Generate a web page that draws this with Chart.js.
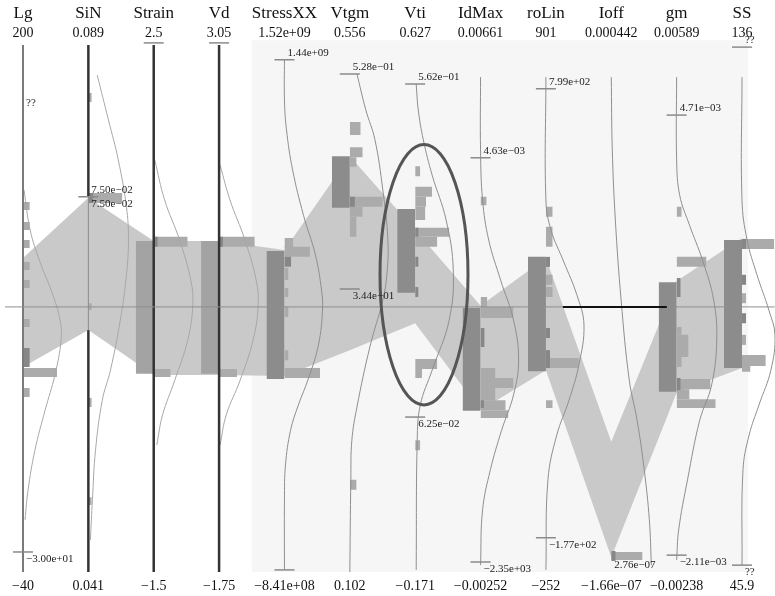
<!DOCTYPE html>
<html>
<head>
<meta charset="utf-8">
<script src="https://cdn.jsdelivr.net/npm/chart.js@4.4.0/dist/chart.umd.min.js"></script>
<style>
  html, body { margin: 0; padding: 0; background: #fff; }
  canvas { display: block; }
</style>
</head>
<body>
<canvas id="myChart" width="775" height="596"></canvas>
<script>
'use strict';

// axes, left to right
const axisNames = ['Lg', 'SiN', 'Strain', 'Vd', 'StressXX', 'Vtgm', 'Vti', 'IdMax', 'roLin', 'Ioff', 'gm', 'SS'];
const axisMax = ['200', '0.089', '2.5', '3.05', '1.52e+09', '0.556', '0.627', '0.00661', '901', '0.000442', '0.00589', '136'];
const axisMin = ['−40', '0.041', '−1.5', '−1.75', '−8.41e+08', '0.102', '−0.171', '−0.00252', '−252', '−1.66e−07', '−0.00238', '45.9'];

// selected band (percent of each axis range)
const bandTop = [59.6, 71.0, 62.8, 62.8, 61.1, 78.9, 64.9, 50.5, 59.6, 24.7, 55.2, 63.4];
const bandBottom = [38.9, 45.9, 37.4, 37.4, 37.2, 42.1, 47.2, 30.7, 38.3, 2.8, 34.0, 38.7];

// brushed range per axis [low, high]
const rangeBoxes = [[37.8, 57.9], null, [37.6, 62.8], [37.6, 62.8], [36.6, 60.9], [69.1, 78.9],
  [53.0, 68.9], [30.6, 50.1], [38.1, 59.8], null, [34.2, 55.0], [38.7, 63.0]];

// histogram bins: [low, high, count, selected]
const binsLg = [[68.7, 70.2, 2], [64.9, 66.4, 2], [61.5, 63.0, 2], [57.3, 58.8, 2], [53.9, 55.4, 2],
  [46.5, 48.0, 2], [38.9, 42.5, 2, 1], [37.0, 38.7, 10], [33.2, 34.9, 2]];
const binsSiN = [[89.2, 90.9, 1], [70.0, 71.9, 10], [70.0, 71.9, 1.5, 1], [49.7, 51.0, 1], [31.3, 33.0, 1], [12.7, 14.2, 1]];
const binsStrain = [[61.7, 63.6, 10], [61.7, 63.6, 1.2, 1], [37.0, 38.5, 5]];
const binsVd = [[61.7, 63.6, 10.5], [61.7, 63.6, 1.2, 1], [37.0, 38.5, 5.3]];
const binsStressXX = [[61.5, 63.4, 2.6], [59.8, 61.7, 7.5], [57.9, 59.8, 2, 1], [55.4, 57.7, 1.2],
  [52.2, 53.9, 1.2], [48.4, 50.3, 1.2], [40.2, 42.1, 1.2], [36.8, 38.7, 10.5]];
const binsVtgm = [[82.9, 85.4, 3.2], [78.7, 80.6, 3.8], [76.9, 78.7, 2], [69.3, 71.2, 9.7], [69.3, 71.2, 1.5, 1],
  [67.4, 69.3, 3.8], [63.6, 67.4, 2], [15.6, 17.5, 2]];
const binsVti = [[75.1, 77.0, 1.5], [71.2, 73.1, 5], [69.3, 71.2, 3.2], [66.8, 69.3, 3], [63.6, 65.3, 10],
  [61.7, 63.6, 6.5], [63.6, 65.3, 1, 1], [57.9, 59.8, 1, 1], [52.2, 54.1, 1, 1], [38.5, 40.4, 6.5],
  [36.8, 38.5, 2], [23.1, 25.0, 1.5]];
const binsIdMax = [[69.6, 71.2, 1.8], [50.3, 52.2, 2], [48.2, 50.3, 9.7], [42.7, 46.3, 1.2, 1], [36.8, 38.7, 4.4],
  [34.9, 36.8, 9.7], [32.6, 34.9, 4.4], [30.7, 32.6, 7.4], [31.1, 32.6, 1, 1], [29.2, 30.7, 8.2]];
const binsRoLin = [[67.4, 69.3, 2], [61.7, 65.5, 2], [57.9, 59.8, 1.2, 1], [54.5, 56.4, 2], [52.2, 54.1, 2],
  [44.4, 46.3, 1.2, 1], [38.7, 40.6, 9.7], [38.7, 42.1, 1.2, 1], [31.1, 32.6, 2]];
const binsIoff = [[2.3, 3.8, 9.2], [2.1, 4.0, 1.3, 1]];
const binsGm = [[67.4, 69.3, 1.5], [57.9, 59.8, 8.8], [52.2, 55.8, 1.2, 1], [45.0, 46.5, 1.5], [40.8, 45.0, 3.5],
  [38.9, 40.8, 1.5], [34.7, 36.6, 10], [34.5, 36.8, 1.2, 1], [32.8, 34.7, 3.8], [31.1, 32.8, 11.5]];
const binsSS = [[61.3, 63.2, 9.5], [61.3, 63.2, 1.2, 1], [54.5, 56.4, 1.2, 1], [51.0, 52.9, 1.2],
  [47.2, 49.1, 1.2, 1], [43.1, 45.0, 1.2], [39.1, 41.2, 7], [38.0, 39.1, 2.5]];
const allBins = [binsLg, binsSiN, binsStrain, binsVd, binsStressXX, binsVtgm, binsVti, binsIdMax, binsRoLin, binsIoff, binsGm, binsSS];

// fitted density curves: [level, density]
const densLg = [[72.5, 0.3], [64.9, 2.1], [58.8, 5.0], [53.1, 8.5], [47.8, 10.9], [44.0, 11.2], [37.4, 9.4],
  [30.7, 6.5], [23.1, 3.5], [15.6, 1.5], [9.9, 0.6]];
const densSiN = [[94.3, 2.6], [85.8, 5.9], [78.2, 8.8], [69.3, 11.2], [63.0, 11.8], [56.4, 11.2], [47.8, 9.4],
  [38.3, 6.5], [32.6, 4.1], [23.1, 2.1], [13.7, 1.2], [6.1, 0.6]];
const densStrain = [[78.2, 0.3], [70.6, 3.2], [63.0, 7.6], [55.4, 10.9], [50.7, 11.5], [44.0, 10.0],
  [36.4, 6.2], [29.8, 2.6], [24.1, 0.9]];
const densVd = [[77.2, 0.3], [70.6, 3.2], [63.0, 7.6], [55.4, 10.9], [50.7, 11.5], [44.0, 10.0],
  [36.4, 6.2], [29.8, 2.1], [24.1, 0.3]];
const densStressXX = [[97.2, 0], [89.6, 0], [83.9, 0.6], [76.3, 2.4], [67.7, 5.6], [60.2, 9.1], [53.5, 10.9],
  [49.7, 11.2], [43.1, 10.0], [36.8, 7.1], [31.7, 4.1], [26.9, 1.8], [20.3, 0.3], [13.7, 0], [0.4, 0]];
const densVtgm = [[94.5, 2.1], [87.7, 4.7], [82.0, 7.4], [72.5, 9.7], [63.0, 11.2], [56.4, 10.9], [51.6, 9.7],
  [42.7, 5.9], [31.3, 2.1], [25.0, 0.6], [17.5, 0.3], [0, 0]];
const densVti = [[92.6, 0.3], [87.7, 0.9], [82.0, 2.4], [75.3, 5.0], [66.8, 9.1], [57.3, 11.2], [47.8, 10.0],
  [38.3, 5.0], [31.7, 1.5], [25.0, 0.6], [0.4, 0.3]];
const densIdMax = [[93.9, 0], [80.1, 0], [70.6, 0.6], [63.0, 2.4], [55.4, 5.9], [47.8, 9.7], [40.2, 11.2],
  [33.6, 9.7], [26.9, 6.2], [19.4, 2.9], [11.8, 0.6], [1.3, 0]];
const densRoLin = [[93.9, 0], [70.6, 0], [64.9, 1.5], [58.8, 5.3], [52.6, 9.1], [46.9, 11.2], [39.3, 9.7],
  [32.6, 6.8], [26.0, 3.2], [17.5, 0.6], [0.4, 0]];
const densIoff = [[93.9, 0], [80.1, 0.3], [66.8, 1.2], [51.6, 2.9], [36.4, 5.3], [28.8, 7.6], [19.4, 9.7],
  [9.9, 11.2], [1.3, 11.8]];
const densGm = [[93.9, 0], [78.2, 0], [71.5, 0.9], [65.8, 3.8], [59.2, 7.6], [51.6, 10.9], [44.0, 11.8],
  [35.5, 10.3], [28.8, 6.8], [17.5, 3.2], [8.0, 0.6], [2.3, 0]];
const densSS = [[93.9, 0], [70.6, 0], [63.0, 1.5], [56.4, 4.4], [49.7, 7.9], [45.0, 9.7], [38.3, 8.5],
  [31.7, 5.0], [26.0, 2.1], [19.4, 0.3], [1.3, 0]];
const allDens = [densLg, densSiN, densStrain, densVd, densStressXX, densVtgm, densVti, densIdMax, densRoLin, densIoff, densGm, densSS];

// range markers: [axis, level, label, side, tick]
const markers = [
  [0, 87.7, '??', 'above', false], [0, 3.8, '−3.00e+01', 'below', true],
  [1, 71.2, '7.50e−02', 'above', true], [1, 71.2, '7.50e−02', 'below', false],
  [2, 100.4, '', 'above', true], [3, 100.4, '', 'above', true],
  [4, 97.2, '1.44e+09', 'above', true], [4, 0.4, '', 'below', true],
  [5, 94.5, '5.28e−01', 'above', true], [5, 53.7, '3.44e−01', 'below', true],
  [6, 92.6, '5.62e−01', 'above', true], [6, 29.4, '6.25e−02', 'below', true],
  [7, 78.6, '4.63e−03', 'above', true], [7, 1.9, '−2.35e+03', 'below', true],
  [8, 91.7, '7.99e+02', 'above', true], [8, 6.5, '−1.77e+02', 'below', true],
  [9, 2.7, '2.76e−07', 'below', false],
  [10, 86.7, '4.71e−03', 'above', true], [10, 3.2, '−2.11e−03', 'below', true],
  [11, 99.6, '??', 'above', true], [11, 1.3, '??', 'below', true]
];

// solid axis lines: [axis, from, to]
const darkAxes = [[1, 0, 45.9], [1, 71.2, 100], [2, 0, 100], [3, 0, 100]];
const greyAxes = [[0, 0, 100], [1, 45.9, 71.2]];

const midLevel = 50.3;
const highlight = [8.26, 9.85];
const ellipse = { axis: 6.135, level: 56.4, rx: 0.673, ry: 24.7 };

const COUNT_W = 0.052; // x units per count
const BOX_W = 0.275;
const SERIF = "'Liberation Serif', 'DejaVu Serif', serif";

Chart.defaults.font.family = SERIF;

function rect(x1, x2, lo, hi, color, order) {
  return {
    data: [{ x: x1, y: hi }, { x: x2, y: hi }],
    borderWidth: 0, pointRadius: 0, fill: { value: lo },
    backgroundColor: color, order: order, clip: false
  };
}

function segment(x1, y1, x2, y2, color, width, order) {
  return {
    data: [{ x: x1, y: y1 }, { x: x2, y: y2 }],
    borderColor: color, borderWidth: width, pointRadius: 0, fill: false,
    order: order, clip: false
  };
}

const datasets = [];
datasets.push({
  data: bandTop.map((v, i) => ({ x: i, y: v })),
  fill: '+1', backgroundColor: '#c9c9c9', borderWidth: 0, pointRadius: 0, order: 90, clip: false
});
datasets.push({
  data: bandBottom.map((v, i) => ({ x: i, y: v })),
  fill: false, borderWidth: 0, pointRadius: 0, order: 90, clip: false
});

rangeBoxes.forEach((b, i) => {
  if (!b) return;
  datasets.push(rect(i - BOX_W, i, b[0], b[1], i < 4 ? '#a3a3a3' : '#8c8c8c', 70));
});

allBins.forEach((list, i) => {
  list.forEach(([lo, hi, n, sel]) => {
    datasets.push(rect(i, i + n * COUNT_W, lo, hi, sel ? '#878787' : '#ababab', sel ? 55 : 60));
  });
});

allDens.forEach((list, i) => {
  datasets.push({
    data: list.map(([lv, d]) => ({ x: i + d * COUNT_W, y: lv })),
    borderColor: i < 4 ? '#a8a8a8' : '#8f8f8f', borderWidth: 1, tension: 0.4, capBezierPoints: false,
    pointRadius: 0, fill: false, order: 50, clip: false
  });
});

greyAxes.forEach(([i, a, b]) => datasets.push(segment(i, a, i, b, i === 0 ? '#7a7a7a' : '#8a8a8a', i === 0 ? 2 : 1, 40)));
darkAxes.forEach(([i, a, b]) => datasets.push(segment(i, a, i, b, '#333', 2.5, 40)));

datasets.push(segment(-BOX_W, midLevel, 11.5, midLevel, '#8f8f8f', 1, 30));
datasets.push(segment(highlight[0], midLevel, highlight[1], midLevel, '#111', 2, 20));

const overlay = {
  id: 'overlay',
  beforeDatasetsDraw(chart) {
    const { ctx, scales: { x, y } } = chart;
    ctx.save();
    ctx.fillStyle = '#f6f6f6';
    const l = x.getPixelForValue(3.5), r = x.getPixelForValue(11.09);
    const t = y.getPixelForValue(100.9), b = y.getPixelForValue(0);
    ctx.fillRect(l, t, r - l, b - t);
    ctx.restore();
  },
  afterDatasetsDraw(chart) {
    const { ctx, chartArea, scales: { x, y } } = chart;
    ctx.save();

    // ellipse annotation
    ctx.strokeStyle = '#555';
    ctx.lineWidth = 3;
    ctx.beginPath();
    const cx = x.getPixelForValue(ellipse.axis), cy = y.getPixelForValue(ellipse.level);
    const rx = x.getPixelForValue(ellipse.axis + ellipse.rx) - cx;
    const ry = cy - y.getPixelForValue(ellipse.level + ellipse.ry);
    ctx.ellipse(cx, cy, rx, ry, 0, 0, Math.PI * 2);
    ctx.stroke();

    // markers
    ctx.font = '11px ' + SERIF;
    ctx.textBaseline = 'middle';
    ctx.textAlign = 'left';
    markers.forEach(([i, lv, text, side, tick]) => {
      const px = x.getPixelForValue(i), py = y.getPixelForValue(lv);
      if (tick) {
        ctx.strokeStyle = '#8a8a8a';
        ctx.lineWidth = 1.5;
        ctx.beginPath();
        ctx.moveTo(px - 10, py);
        ctx.lineTo(px + 10, py);
        ctx.stroke();
      }
      if (text) {
        ctx.fillStyle = '#222';
        ctx.fillText(text, px + 3, side === 'above' ? py - 6.5 : py + 7);
      }
    });

    // axis titles and range labels
    ctx.textAlign = 'center';
    ctx.fillStyle = '#111';
    axisNames.forEach((name, i) => {
      const px = x.getPixelForValue(i);
      ctx.font = '17px ' + SERIF;
      ctx.fillText(name, px, chartArea.top - 31);
      ctx.font = '14px ' + SERIF;
      ctx.fillText(axisMax[i], px, chartArea.top - 12);
      ctx.fillText(axisMin[i], px, chartArea.bottom + 14);
    });
    ctx.restore();
  }
};

new Chart(document.getElementById('myChart'), {
  type: 'line',
  data: { datasets: datasets },
  options: {
    responsive: false,
    animation: false,
    devicePixelRatio: 1,
    layout: { padding: { left: 23, right: 0, top: 45, bottom: 24 } },
    scales: {
      x: { type: 'linear', min: 0, max: 11.505, display: false },
      y: { type: 'linear', min: 0, max: 100, display: false }
    },
    plugins: {
      legend: { display: false },
      tooltip: { enabled: false }
    },
    elements: { line: { tension: 0 } }
  },
  plugins: [overlay]
});
</script>
</body>
</html>
